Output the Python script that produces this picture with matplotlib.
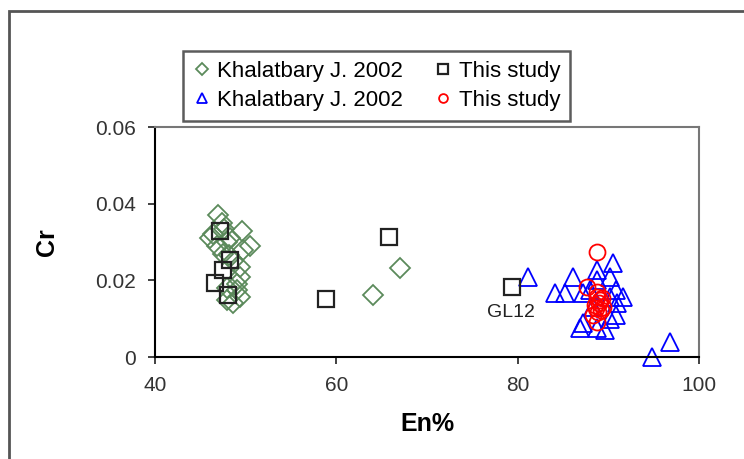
import matplotlib.pyplot as plt
from matplotlib.patches import Rectangle

plt.rcParams['font.family'] = ['Liberation Sans', 'DejaVu Sans']

# Khalatbary J. 2002 (diamonds)
dia_x = [46.9, 47.4, 49.6, 46.4, 48.3, 50.5, 49.7, 46.8, 47.9, 47.5, 49.4, 48.6,
         49.4, 47.9, 49.4, 48.6, 47.9, 49.0, 46.1, 49.0, 48.2, 47.6, 64.0, 67.0]
dia_y = [0.037, 0.035, 0.033, 0.032, 0.031, 0.029, 0.028, 0.029, 0.030, 0.027, 0.0235, 0.025,
         0.021, 0.018, 0.0157, 0.014, 0.015, 0.0175, 0.031, 0.019, 0.0265, 0.0335, 0.0162, 0.0232]

# This study (squares)
sq_x = [47.2, 48.3, 47.5, 46.6, 48.0, 58.9, 65.8, 79.4]
sq_y = [0.033, 0.0253, 0.0227, 0.0193, 0.0162, 0.0151, 0.0313, 0.0183]

# Khalatbary J. 2002 (triangles)
tri_x = [90.5, 86.1, 84.1, 85.2, 87.2, 88.7, 88.8, 90.2, 90.9, 91.0, 90.9, 87.2, 88.7,
         89.6, 86.9, 88.0, 90.2, 88.3, 90.2, 81.1, 91.6, 96.8, 94.8]
tri_y = [0.0245, 0.021, 0.0167, 0.0167, 0.0167, 0.0227, 0.020, 0.021, 0.0175, 0.014, 0.011,
         0.009, 0.0076, 0.007, 0.0076, 0.0175, 0.0157, 0.013, 0.010, 0.021, 0.0157, 0.004, 0.0]

# This study (circles)
cir_x = [88.8, 87.7, 88.8, 89.1, 88.5, 89.4, 88.3, 88.7, 89.2, 88.8, 89.0, 89.3, 88.9, 88.6]
cir_y = [0.0274, 0.0183, 0.017, 0.0149, 0.0136, 0.013, 0.011, 0.0091, 0.0123, 0.0157,
         0.0142, 0.0155, 0.0118, 0.0128]

fig = plt.figure(figsize=(7.44, 4.59), dpi=100)
ax = fig.add_axes([0.2083, 0.2222, 0.7312, 0.5011])

h1, = ax.plot(dia_x, dia_y, 'D', ms=10.5, mfc='none', mec='#5b8a5b', mew=1.3, clip_on=False)
h2, = ax.plot(tri_x, tri_y, '^', ms=13, mfc='none', mec='#0000ff', mew=1.3, clip_on=False)
h3, = ax.plot(sq_x, sq_y, 's', ms=12, mfc='none', mec='#222222', mew=1.6, clip_on=False)
h4, = ax.plot(cir_x, cir_y, 'o', ms=11.5, mfc='none', mec='#ff0000', mew=1.3, clip_on=False)

ax.text(79.3, 0.0117, 'GL12', fontsize=14, ha='center', va='center', color='#222222')

ax.set_xlim(40, 100)
ax.set_ylim(0, 0.06)
ax.set_xticks([40, 60, 80, 100])
ax.set_yticks([0, 0.02, 0.04, 0.06])
ax.set_yticklabels(['0', '0.02', '0.04', '0.06'])
ax.tick_params(direction='out', length=5, width=1.3, labelsize=15, colors='#333333')
ax.tick_params(axis='y', pad=9)
ax.tick_params(axis='x', pad=9)

for s in ['left', 'bottom']:
    ax.spines[s].set_color('black')
    ax.spines[s].set_linewidth(1.5)
for s in ['top', 'right']:
    ax.spines[s].set_color('#777777')
    ax.spines[s].set_linewidth(1.5)

ax.set_xlabel('En%', fontsize=18, fontweight='bold', labelpad=12)
ax.set_ylabel('Cr', fontsize=18, fontweight='bold', labelpad=26)

leg = fig.legend([h1, h2, h3, h4],
                 ['Khalatbary J. 2002', 'Khalatbary J. 2002', 'This study', 'This study'],
                 ncol=2, loc='upper left', bbox_to_anchor=(183 / 744, 1 - 51 / 459),
                 fontsize=16, frameon=True, fancybox=False, edgecolor='#333333',
                 handlelength=0.8, handletextpad=0.3, columnspacing=1.4,
                 labelspacing=0.35, borderpad=0.45, borderaxespad=0, markerscale=0.55)
leg.get_frame().set_linewidth(1.8)

# outer frame of the figure
fig.patches.append(Rectangle((9 / 744, -0.1), 1.2, 1 - 11 / 459 + 0.1,
                             transform=fig.transFigure, fill=False,
                             edgecolor='#555555', linewidth=2))

fig.savefig('out.png', dpi=100)
